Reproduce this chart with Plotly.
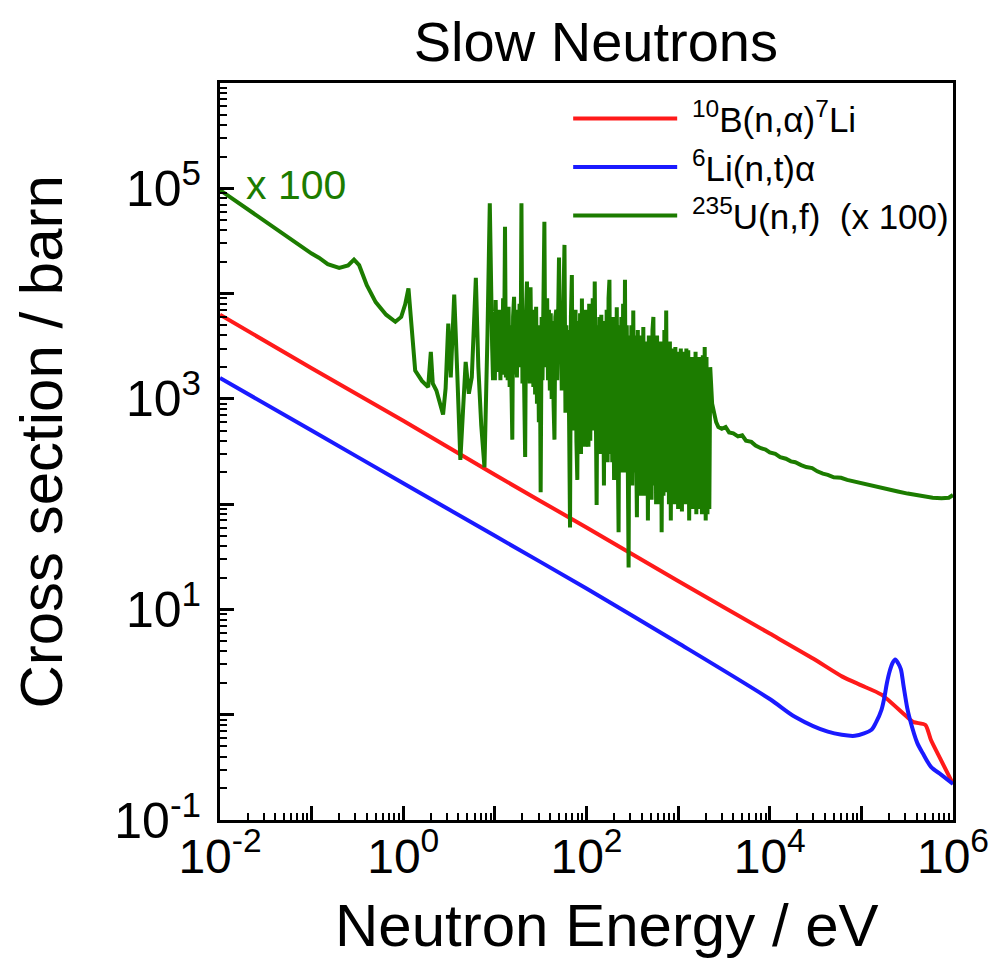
import plotly.graph_objects as go

# ---------------- data ----------------
# 10B(n,alpha)7Li
energy_b10 = [0.01, 0.1, 1, 10, 100, 1000, 1e4, 3e4, 6.2e4, 1e5, 1.66e5, 3.16e5,
              3.72e5, 5.0e5, 5.75e5, 7.4e5, 1e6]
sigma_b10 = [6300, 1950, 620, 190, 60, 18.6, 5.9, 3.4, 2.3, 1.9, 1.55, 0.95,
             0.85, 0.80, 0.575, 0.37, 0.22]

# 6Li(n,t)alpha
energy_li6 = [0.01, 0.1, 1, 10, 100, 1000, 1e4, 1.9e4, 4.3e4, 8.5e4, 1.29e5,
              1.45e5, 1.66e5, 1.78e5, 1.9e5, 2.04e5, 2.19e5, 2.34e5, 2.51e5,
              2.7e5, 2.88e5, 3.16e5, 3.39e5, 4.07e5, 4.68e5, 5.75e5, 7.41e5, 1e6]
sigma_li6 = [1580, 500, 158, 50, 15.8, 4.8, 1.41, 0.95, 0.69, 0.63, 0.72,
             0.85, 1.12, 1.45, 2.0, 2.6, 3.1, 3.35, 3.1,
             2.7, 1.9, 1.17, 0.9, 0.54, 0.43, 0.32, 0.27, 0.22]

# 235U(n,f), multiplied by 100
energy_u235 = [
    # smooth thermal part and first resonances
    0.01, 0.02, 0.05, 0.1, 0.12, 0.15, 0.2, 0.25, 0.29, 0.33, 0.4, 0.5, 0.65,
    0.82, 0.95, 1.05, 1.14, 1.22, 1.35, 1.6, 1.87, 2.0, 2.1, 2.3, 2.5, 2.72,
    2.9, 3.1, 3.3, 3.6, 3.9, 4.2, 4.5, 4.8, 5.2, 5.6, 6.2, 6.6, 7.1, 7.7, 8.3,
    8.8,
    # resolved resonance region
    9.33, 9.55, 9.77, 10.0, 10.2, 10.5, 10.7, 11.0, 11.2, 11.5,
    11.7, 12.0, 12.3, 12.6, 12.9, 13.2, 13.5, 13.8, 14.1, 14.5,
    14.8, 15.1, 15.5, 15.8, 16.2, 16.6, 17.0, 17.4, 17.8, 18.2,
    18.6, 19.1, 19.5, 20.0, 20.4, 20.9, 21.4, 21.9, 22.4, 22.9,
    23.4, 24.0, 24.5, 25.1, 25.7, 26.3, 26.9, 27.5, 28.2, 28.8,
    29.5, 30.2, 30.9, 31.6, 32.4, 33.1, 33.9, 34.7, 35.5, 36.3,
    37.2, 38.0, 38.9, 39.8, 40.7, 41.7, 42.7, 43.7, 44.7, 45.7,
    46.8, 47.9, 49.0, 50.1, 51.3, 52.5, 53.7, 55.0, 56.2, 57.5,
    58.9, 60.3, 61.7, 63.1, 64.6, 66.1, 67.6, 69.2, 70.8, 72.4,
    74.1, 75.9, 77.6, 79.4, 81.3, 83.2, 85.1, 87.1, 89.1, 91.2,
    93.3, 95.5, 97.7,
    100, 102, 105, 107, 110, 112, 115, 117, 120, 123,
    126, 129, 132, 135, 138, 141, 145, 148, 151, 155,
    158, 162, 166, 170, 174, 178, 182, 186, 191, 195,
    200, 204, 209, 214, 219, 224, 229, 234, 240, 245,
    251, 257, 263, 269, 275, 282, 288, 295, 302, 309,
    316, 324, 331, 339, 347, 355, 363, 372, 380, 389,
    398, 407, 417, 427, 437, 447, 457, 468, 479, 490,
    501, 513, 525, 537, 550, 562, 575, 589, 603, 617,
    631, 646, 661, 676, 692, 708, 724, 741, 759, 776,
    794, 813, 832, 851, 871, 891, 912, 933, 955, 977,
    1000, 1020, 1050, 1070, 1100, 1120, 1150, 1170, 1200, 1230,
    1260, 1290, 1320, 1350, 1380, 1410, 1450, 1480, 1510, 1550,
    1580, 1620, 1660, 1700, 1740, 1780, 1820, 1860, 1910, 1950,
    2000, 2040, 2090, 2140, 2190, 2240,
    # unresolved / fast region
    2350, 2450, 2600, 2750, 3000, 3300, 3600, 4000, 4500, 5000,
    5500, 6300, 7000, 8000, 9000, 1e4, 1.15e4, 1.3e4, 1.5e4, 1.7e4,
    1.9e4, 2.2e4, 2.5e4, 2.9e4, 3.3e4, 3.8e4, 4.3e4, 5e4, 6e4, 7e4, 8.5e4,
    1e5, 1.3e5, 1.6e5, 2e5, 2.5e5, 3.2e5, 4e5, 5e5, 6e5, 7.5e5, 9e5, 1e6]
sigma_u235_x100 = [
    96000, 63000, 36000, 24000, 21900, 19000, 17500, 18500, 21000, 18600,
    12000, 8300, 6300, 5400, 6000, 7900, 11200, 5000, 1860, 1480, 1290, 2800,
    1400, 1200, 890, 710, 1260, 5200, 1600, 9800, 1600, 263, 800, 2240, 1120,
    1600, 14100, 2000, 560, 224, 4000, 72000,
    3200, 1500, 4000, 1500, 8700, 1800, 6000, 1900, 7000, 1500,
    5500, 1700, 9000, 2500, 43000, 1600, 6000, 1500, 7500, 1300,
    5000, 1400, 410, 6000, 9300, 1700, 7000, 1600, 6500, 2000,
    8000, 2500, 72000, 1400, 6000, 1200, 280, 7000, 13000, 1500,
    8000, 1400, 11500, 2000, 7000, 1300, 6000, 1100, 7500, 900,
    5000, 600, 4500, 130, 6000, 1500, 9000, 48000, 2000, 8000,
    9000, 1500, 7000, 1200, 6500, 1000, 5500, 900, 410, 6000,
    7000, 1500, 8000, 22000, 2500, 7000, 1200, 6000, 9000, 29000,
    740, 5000, 800, 4500, 600, 60, 6000, 15000, 500, 6000,
    700, 7000, 400, 170, 5500, 400, 6500, 300, 9000, 500,
    6000, 350, 7000,
    400, 6000, 350, 8000, 400, 5000, 2200, 9000, 500, 13000,
    300, 98, 5000, 400, 6000, 300, 6300, 400, 5000, 150,
    5500, 300, 7000, 250, 9000, 13500, 300, 6000, 250, 5000,
    170, 6000, 300, 7400, 400, 54, 5000, 250, 6000, 200,
    8000, 300, 13500, 200, 5000, 150, 25, 4000, 200, 5000,
    150, 6900, 200, 4000, 150, 75, 4500, 150, 3500, 120,
    4000, 200, 4800, 120, 3500, 150, 3000, 70, 4000, 130,
    3500, 110, 4500, 6000, 150, 3500, 100, 4000, 130, 3000,
    100, 3500, 54, 3000, 120, 4500, 130, 6900, 150, 3000,
    100, 3500, 70, 3000, 120, 2500, 100, 3100, 130, 2800,
    90, 2500, 120, 3000, 85, 2500, 110, 2800, 100, 3000,
    120, 2900, 70, 2500, 100, 2200, 90, 2500, 110, 2800,
    80, 2200, 100, 2500, 90, 2300, 80, 2600, 100, 3100,
    70, 2500, 80, 1800, 90, 2000,
    900, 740, 600, 540, 520, 540, 480, 470, 440, 450,
    400, 390, 360, 340, 330, 310, 300, 280, 270, 255,
    250, 235, 225, 220, 205, 195, 190, 180, 178, 170, 163,
    158, 150, 143, 138, 132, 126, 122, 117, 115, 114, 115, 122]

x_tick_values = [1e-2, 1e-1, 1e0, 1e1, 1e2, 1e3, 1e4, 1e5, 1e6]
x_tick_labels = ["10<sup>-2</sup>", "", "10<sup>0</sup>", "", "10<sup>2</sup>", "",
                 "10<sup>4</sup>", "", "10<sup>6</sup>"]
y_tick_values = [1e-1, 1e0, 1e1, 1e2, 1e3, 1e4, 1e5, 1e6]
y_tick_labels = ["10<sup>-1</sup>", "", "10<sup>1</sup>", "", "10<sup>3</sup>", "",
                 "10<sup>5</sup>", ""]

series_names = ["\u00a0<sup>10</sup>B(n,\u03b1)<sup>7</sup>Li",
                "\u00a0<sup>6</sup>Li(n,t)\u03b1",
                "\u00a0<sup>235</sup>U(n,f)  (x 100)"]

RED = "#ff1a1a"
BLUE = "#1a1aff"
GREEN = "#1c7c00"
FONT = "Liberation Sans, Arial, Helvetica, sans-serif"

fig = go.Figure()
fig.add_trace(go.Scatter(x=energy_b10, y=sigma_b10, mode="lines", name=series_names[0],
                         line=dict(color=RED, width=4, shape="spline", smoothing=0.6)))
fig.add_trace(go.Scatter(x=energy_li6, y=sigma_li6, mode="lines", name=series_names[1],
                         line=dict(color=BLUE, width=4, shape="spline", smoothing=0.8)))
fig.add_trace(go.Scatter(x=energy_u235, y=sigma_u235_x100, mode="lines", name=series_names[2],
                         line=dict(color=GREEN, width=4)))

minor_vals = [m * 10.0 ** k for k in range(-2, 6) for m in range(2, 10)]
minor_vals_y = [m * 10.0 ** k for k in range(-1, 6) for m in range(2, 10)]

fig.update_xaxes(type="log", range=[-2, 6], showline=True, linecolor="black", linewidth=3,
                 mirror=True, ticks="inside", ticklen=14, tickwidth=2.5, tickcolor="black",
                 tickvals=x_tick_values, ticktext=x_tick_labels, showgrid=False, zeroline=False,
                 tickfont=dict(size=48, family=FONT, color="black"), ticklabelstandoff=-8,
                 minor=dict(ticks="inside", ticklen=7, tickwidth=2, tickcolor="black",
                            tickvals=minor_vals, showgrid=False))
fig.update_yaxes(type="log", range=[-1, 6], showline=True, linecolor="black", linewidth=3,
                 mirror=True, ticks="inside", ticklen=14, tickwidth=2.5, tickcolor="black",
                 tickvals=y_tick_values, ticktext=y_tick_labels, showgrid=False, zeroline=False,
                 tickfont=dict(size=50, family=FONT, color="black"), ticklabelstandoff=6,
                 minor=dict(ticks="inside", ticklen=7, tickwidth=2, tickcolor="black",
                            tickvals=minor_vals_y, showgrid=False))

# the page body adds an 8 px offset, so the figure is 8 px smaller than the window
fig.update_layout(
    width=993, height=965,
    margin=dict(l=212, r=42, t=75, b=153),
    paper_bgcolor="white", plot_bgcolor="white",
    font=dict(family=FONT, color="black"),
    title=dict(text="Slow Neutrons", x=0.592, xanchor="center", y=0.9655, yanchor="middle",
               font=dict(size=56, family=FONT, color="black")),
    legend=dict(x=0.475, y=0.9916, xanchor="left", yanchor="top", bgcolor="rgba(0,0,0,0)",
                font=dict(size=35, family=FONT, color="black"), itemwidth=104,
                tracegroupgap=0),
    showlegend=True,
    annotations=[
        dict(text="x 100", xref="paper", yref="paper", x=0.0325, y=0.862,
             xanchor="left", yanchor="middle", showarrow=False,
             font=dict(size=41, family=FONT, color=GREEN)),
        dict(text="Neutron Energy / eV", xref="paper", yref="paper", x=0.528, y=-0.1425,
             xanchor="center", yanchor="middle", showarrow=False,
             font=dict(size=60, family=FONT, color="black")),
        dict(text="Cross section / barn", xref="paper", yref="paper", x=-0.2436, y=0.514,
             xanchor="center", yanchor="middle", showarrow=False, textangle=-90,
             font=dict(size=60, family=FONT, color="black")),
    ],
)

fig.write_html("out.html")
